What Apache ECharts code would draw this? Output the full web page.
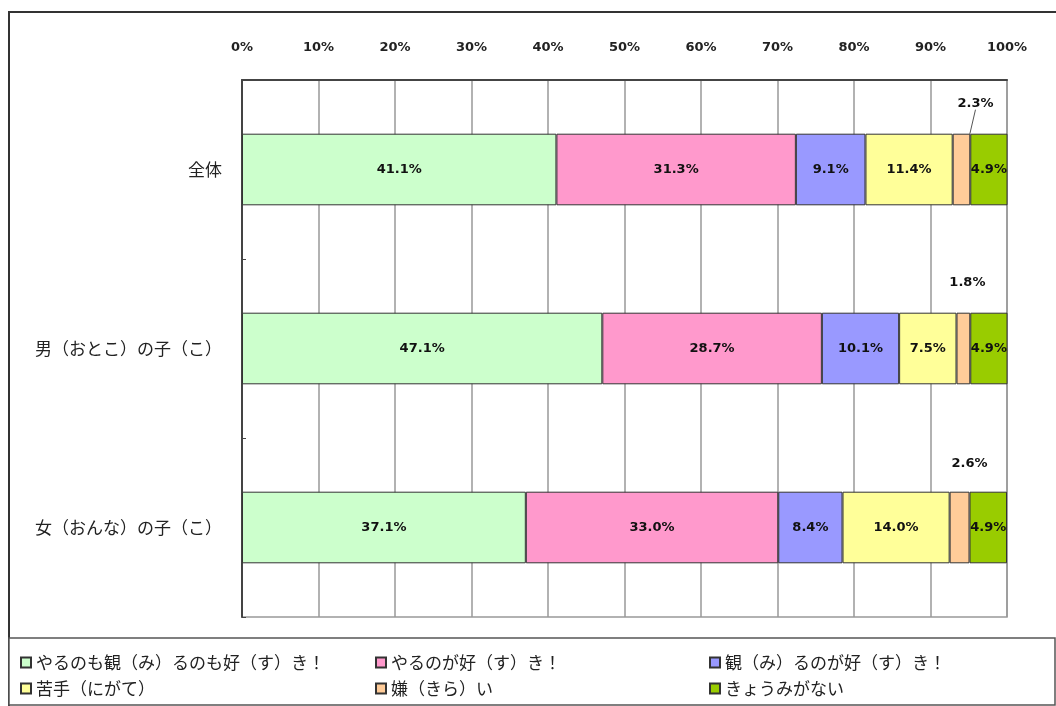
<!DOCTYPE html>
<html>
<head>
<meta charset="utf-8">
<script src="https://cdn.jsdelivr.net/npm/echarts@6/dist/echarts.min.js"></script>
<style>
  html, body { margin: 0; padding: 0; background: #fff; }
  #chart { width: 1056px; height: 706px; }
</style>
</head>
<body>
<div id="chart"></div>
<script>
// Survey groups (top to bottom)
const categories = ['全体', '男（おとこ）の子（こ）', '女（おんな）の子（こ）'];

// Answer shares in percent, one array per answer
const seriesNames = [
  'やるのも観（み）るのも好（す）き！',
  'やるのが好（す）き！',
  '観（み）るのが好（す）き！',
  '苦手（にがて）',
  '嫌（きら）い',
  'きょうみがない'
];
const bothLike   = [41.1, 47.1, 37.1];
const doLike     = [31.3, 28.7, 33.0];
const watchLike  = [9.1, 10.1, 8.4];
const notGood    = [11.4, 7.5, 14.0];
const dislike    = [2.3, 1.8, 2.6];
const noInterest = [4.9, 4.9, 4.9];

// Top axis tick labels
const tickLabels = ['0%', '10%', '20%', '30%', '40%', '50%', '60%', '70%', '80%', '90%', '100%'];

const values = [bothLike, doLike, watchLike, notGood, dislike, noInterest];
const colors = ['#CCFFCC', '#FF99CC', '#9999FF', '#FFFF99', '#FFCC99', '#99CC00'];

const FONT = '"Noto Sans CJK JP", "Noto Sans", sans-serif';
const NUM_FONT = '"DejaVu Sans", sans-serif';

const labelText = { fontFamily: NUM_FONT, fontSize: 13, fontWeight: 'bold', color: '#111' };

// Small "嫌い" shares are labelled above the bar, nudged sideways
const smallShift = [[14, -22], [4, -22], [10, -20]];

const series = values.map((arr, i) => {
  const s = {
    name: seriesNames[i],
    type: 'bar',
    stack: 'total',
    barWidth: '40%',
    data: arr,
    itemStyle: { color: colors[i], borderColor: '#333', borderWidth: 1 },
    label: Object.assign({
      show: true,
      position: 'inside',
      formatter: p => p.value.toFixed(1) + '%'
    }, labelText),
    emphasis: { disabled: true }
  };
  if (i === 4) {
    s.data = arr.map((v, k) => k === 0
      ? { value: v, labelLine: { show: true, lineStyle: { color: '#555', width: 1 } } }
      : v);
    s.label.position = 'top';
    s.label.distance = 2;
    s.labelLine = { show: false };
    s.labelLayout = p => ({ dx: smallShift[p.dataIndex][0], dy: smallShift[p.dataIndex][1] });
  }
  return s;
});

const legendText = { fontFamily: FONT, fontSize: 17, color: '#222' };
const legendCommon = {
  orient: 'vertical',
  top: 649,
  itemGap: 9,
  itemWidth: 10,
  itemHeight: 10,
  icon: 'rect',
  textStyle: legendText,
  selectedMode: false
};

const chart = echarts.init(document.getElementById('chart'), null, { renderer: 'canvas' });
chart.setOption({
  animation: false,
  backgroundColor: '#fff',
  grid: { left: 242, right: 49, top: 80, bottom: 89, show: true, borderColor: '#999', borderWidth: 1.5 },
  xAxis: {
    type: 'value',
    position: 'top',
    min: 0,
    max: 100,
    interval: 10,
    axisLine: { show: true, lineStyle: { color: '#444', width: 2 } },
    axisTick: { show: false },
    splitLine: { show: true, lineStyle: { color: '#999', width: 1.5 } },
    axisLabel: {
      margin: 26,
      formatter: v => tickLabels[Math.round(v / 10)],
      fontFamily: NUM_FONT, fontSize: 13, fontWeight: 'bold', color: '#222'
    }
  },
  yAxis: {
    type: 'category',
    inverse: true,
    data: categories,
    axisLine: { show: true, lineStyle: { color: '#444', width: 2 } },
    axisTick: { show: true, inside: true, length: 4, lineStyle: { color: '#444' } },
    axisLabel: { margin: 20, fontFamily: FONT, fontSize: 17, color: '#222' }
  },
  legend: [
    Object.assign({ left: 15, data: [seriesNames[0], seriesNames[3]] }, legendCommon),
    Object.assign({ left: 370, data: [seriesNames[1], seriesNames[4]] }, legendCommon),
    Object.assign({ left: 704, data: [seriesNames[2], seriesNames[5]] }, legendCommon)
  ],
  graphic: [
    { type: 'rect', silent: true, z: -1,
      shape: { x: 9, y: 12, width: 1100, height: 800 },
      style: { fill: null, stroke: '#333', lineWidth: 2 } },
    { type: 'rect', silent: true, z: -1,
      shape: { x: 9, y: 638, width: 1046, height: 67 },
      style: { fill: '#fff', stroke: '#555', lineWidth: 1.5 } }
  ],
  series: series
});
</script>
</body>
</html>
